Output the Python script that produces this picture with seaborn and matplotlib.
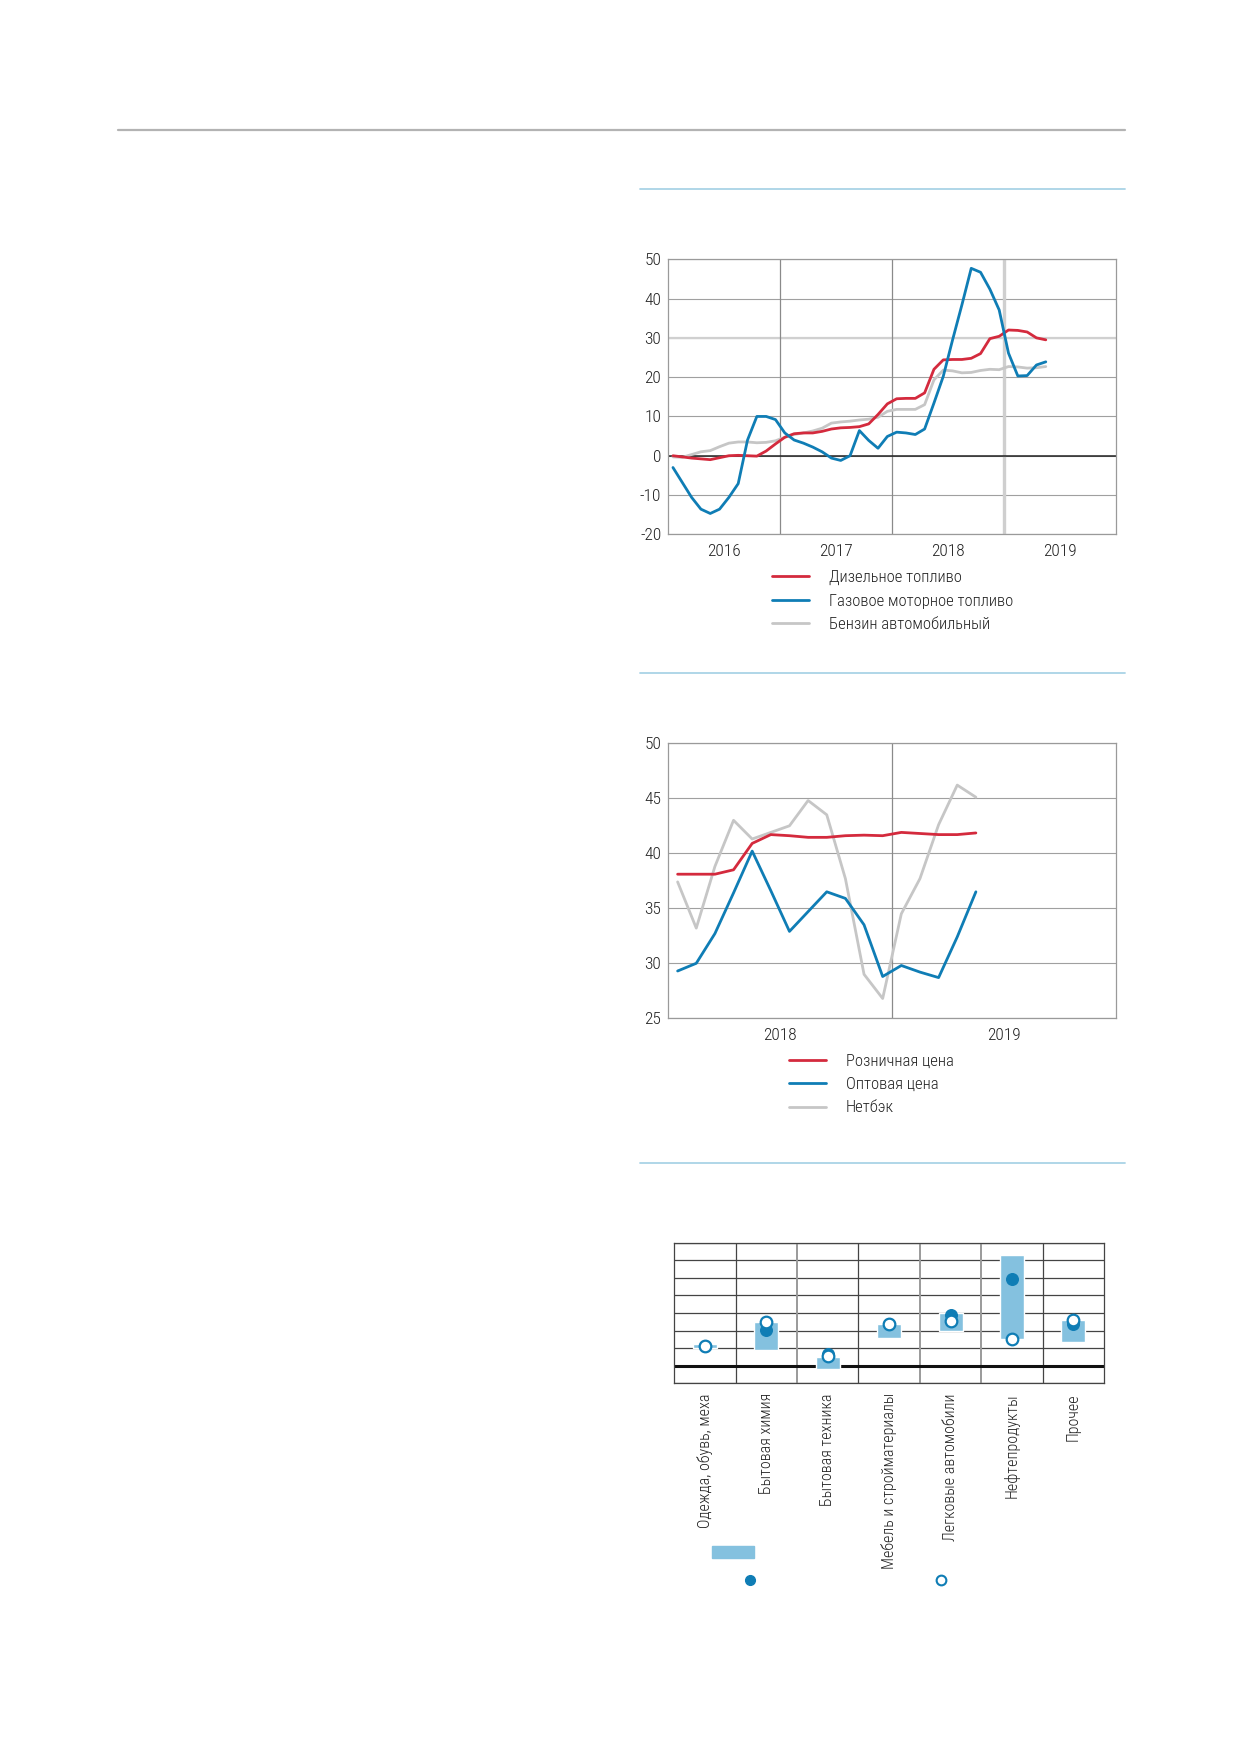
import numpy as np
import pandas as pd
import matplotlib
matplotlib.use('Agg')
import matplotlib.pyplot as plt
import seaborn as sns
from matplotlib.lines import Line2D
from matplotlib.patches import Patch

sns.set_theme(style='white')
plt.rcParams['font.family'] = ['Roboto Condensed', 'DejaVu Sans']
plt.rcParams['font.stretch'] = 'condensed'
plt.rcParams['font.weight'] = 'light'
plt.rcParams['text.color'] = '#222222'
plt.rcParams['xtick.color'] = '#222222'
plt.rcParams['ytick.color'] = '#222222'

RED = '#d42a3d'
BLUE = '#0f7db5'
GREY = '#c6c6c6'
BAR = '#84c1df'

# --- chart 1: fuel prices, monthly Jan 2016 - May 2019 ---
fuel_labels = ['Дизельное топливо', 'Газовое моторное топливо', 'Бензин автомобильный']
diesel = [0, -0.3, -0.6, -0.8, -1.0, -0.5, 0, 0.1, 0, -0.1, 1.2, 3.0, 4.7, 5.6, 5.8,
          5.8, 6.2, 6.8, 7.1, 7.2, 7.4, 8.1, 10.5, 13.2, 14.5, 14.6, 14.6, 16, 22, 24.4,
          24.5, 24.5, 24.8, 26, 29.8, 30.4, 32, 31.9, 31.5, 30, 29.5]
gas = [-3, -6.8, -10.6, -13.6, -14.7, -13.6, -10.6, -7.1, 4, 10, 10, 9.2, 5.8, 4, 3.2,
       2.2, 1, -0.6, -1.2, 0, 6.4, 3.9, 1.9, 4.9, 6, 5.8, 5.4, 6.8, 13.4, 20.2,
       29.5, 38.4, 47.7, 46.7, 42.4, 37.1, 26.1, 20.3, 20.4, 23.1, 23.9]
petrol = [-0.3, -0.4, 0.3, 1.0, 1.3, 2.3, 3.2, 3.5, 3.5, 3.3, 3.4, 3.8, 4.7, 5.4, 5.8,
          6.3, 7.0, 8.3, 8.6, 8.8, 9.1, 9.3, 9.8, 11.3, 11.8, 11.8, 11.8, 13.0, 19.3, 21.8,
          21.6, 21.1, 21.2, 21.7, 22.0, 21.9, 22.7, 22.6, 22.3, 22.4, 22.7]
years1 = ['2016', '2017', '2018', '2019']
yticks1 = list(range(-20, 51, 10))

# --- chart 2: prices, monthly Jan 2018 - May 2019 ---
price_labels = ['Розничная цена', 'Оптовая цена', 'Нетбэк']
retail = [38.1, 38.1, 38.1, 38.5, 40.9, 41.7, 41.6, 41.45, 41.45, 41.6, 41.65, 41.6,
          41.9, 41.8, 41.7, 41.7, 41.85]
wholesale = [29.3, 30.0, 32.7, 36.4, 40.2, 36.6, 32.9, 34.7, 36.5, 35.9, 33.5, 28.8,
             29.8, 29.2, 28.7, 32.4, 36.5]
netback = [37.4, 33.2, 38.8, 43.0, 41.3, 41.9, 42.5, 44.8, 43.5, 37.7, 29.0, 26.8,
           34.5, 37.7, 42.6, 46.2, 45.1]
years2 = ['2018', '2019']
yticks2 = list(range(25, 51, 5))

# --- chart 3: ranges by category ---
categories = ['Одежда, обувь, меха', 'Бытовая химия', 'Бытовая техника',
              'Мебель и стройматериалы', 'Легковые автомобили', 'Нефтепродукты', 'Прочее']
range_lo = [1.02, 0.87, -0.19, 1.55, 1.99, 1.52, 1.35]
range_hi = [1.21, 2.46, 0.47, 2.35, 3.0, 6.31, 2.6]
filled_pts = [1.1, 2.05, 0.68, 2.35, 2.88, 4.93, 2.35]
open_pts = [1.1, 2.5, 0.53, 2.35, 2.54, 1.52, 2.63]

W, H = 1239, 1752
fig = plt.figure(figsize=(W / 100, H / 100), dpi=100)


def fx(px):
    return px / W


def fy(py):
    return 1 - py / H


def style_axes(ax, spine_color='#9a9a9a'):
    for s in ax.spines.values():
        s.set_visible(True)
        s.set_color(spine_color)
        s.set_linewidth(0.9)
    ax.tick_params(length=0, labelsize=12.5)
    ax.tick_params(axis='x', pad=7)
    ax.tick_params(axis='y', pad=5)


# decorative separators
fig.add_artist(Line2D([fx(118), fx(1125)], [fy(129.5)] * 2, color='#b3b3b3', lw=1.6))
for yy in [189, 672.5, 1162.5]:
    fig.add_artist(Line2D([fx(640), fx(1125)], [fy(yy)] * 2, color='#a9d3e6', lw=1.3))

# chart 1
ax1 = fig.add_axes([fx(668.3), fy(534.3), fx(447.4), 275 / H])
x1 = np.arange(len(diesel)) + 0.5
df1 = pd.DataFrame({'x': x1, 'diesel': diesel, 'gas': gas, 'petrol': petrol})
ax1.set_xlim(0, 48)
ax1.set_ylim(-20, 50)
ax1.set_yticks(yticks1)
ax1.set_yticklabels([str(v) for v in yticks1])
ax1.grid(axis='y', color='#a0a0a0', lw=0.8)
ax1.axhline(30, color='#d0d0d0', lw=1.6, zorder=0.6)
ax1.axhline(0, color='#222222', lw=1.1, zorder=1)
for b in [12, 24]:
    ax1.axvline(b, color='#8a8a8a', lw=0.9, zorder=0.7)
ax1.axvline(36, color='#cfcfcf', lw=2.4, zorder=0.7)
ax1.set_axisbelow(True)
sns.lineplot(data=df1, x='x', y='petrol', color=GREY, lw=2, ax=ax1, zorder=2)
sns.lineplot(data=df1, x='x', y='diesel', color=RED, lw=2, ax=ax1, zorder=3)
sns.lineplot(data=df1, x='x', y='gas', color=BLUE, lw=2, ax=ax1, zorder=4)
ax1.set_xticks([6, 18, 30, 42])
ax1.set_xticklabels(years1)
ax1.set_xlabel('')
ax1.set_ylabel('')
style_axes(ax1)
h1 = [Line2D([], [], color=c, lw=2) for c in [RED, BLUE, GREY]]
ax1.legend(h1, fuel_labels, loc='center left', bbox_to_anchor=(fx(772), fy(601)),
           bbox_transform=fig.transFigure, frameon=False, fontsize=12,
           handlelength=2.2, handletextpad=1.2, labelspacing=0.5,
           borderpad=0, borderaxespad=0)

# chart 2
ax2 = fig.add_axes([fx(668.3), fy(1018.3), fx(447.4), 275 / H])
x2 = np.arange(len(retail)) + 0.5
df2 = pd.DataFrame({'x': x2, 'retail': retail, 'wholesale': wholesale, 'netback': netback})
ax2.set_xlim(0, 24)
ax2.set_ylim(25, 50)
ax2.set_yticks(yticks2)
ax2.set_yticklabels([str(v) for v in yticks2])
ax2.grid(axis='y', color='#a0a0a0', lw=0.8)
ax2.axvline(12, color='#8a8a8a', lw=0.9, zorder=0.7)
ax2.set_axisbelow(True)
sns.lineplot(data=df2, x='x', y='netback', color=GREY, lw=2, ax=ax2, zorder=2)
sns.lineplot(data=df2, x='x', y='retail', color=RED, lw=2, ax=ax2, zorder=3)
sns.lineplot(data=df2, x='x', y='wholesale', color=BLUE, lw=2, ax=ax2, zorder=4)
ax2.set_xticks([6, 18])
ax2.set_xticklabels(years2)
ax2.set_xlabel('')
ax2.set_ylabel('')
style_axes(ax2)
h2 = [Line2D([], [], color=c, lw=2) for c in [RED, BLUE, GREY]]
ax2.legend(h2, price_labels, loc='center left', bbox_to_anchor=(fx(789.3), fy(1084.5)),
           bbox_transform=fig.transFigure, frameon=False, fontsize=12,
           handlelength=2.2, handletextpad=1.2, labelspacing=0.5,
           borderpad=0, borderaxespad=0)

# chart 3
ax3 = fig.add_axes([fx(674.3), fy(1383.3), fx(429.7), 140.6 / H])
df3 = pd.DataFrame({'cat': categories, 'lo': range_lo, 'hi': range_hi,
                    'filled': filled_pts, 'open': open_pts})
ax3.bar(df3['cat'], df3['hi'] - df3['lo'], bottom=df3['lo'], width=0.39,
        color=BAR, zorder=2)
sns.scatterplot(data=df3, x='cat', y='filled', color=BLUE, edgecolor=BLUE, s=70,
                linewidth=1, ax=ax3, zorder=3)
sns.scatterplot(data=df3, x='cat', y='open', color='white', edgecolor=BLUE, s=70,
                linewidth=1.6, ax=ax3, zorder=4)
ax3.set_xlim(-0.5, len(categories) - 0.5)
ax3.set_ylim(-1, 7)
ax3.set_yticks(range(-1, 8))
ax3.set_yticklabels([])
ax3.grid(axis='y', color='#444444', lw=0.9)
for i, b in enumerate(np.arange(0.5, len(categories) - 0.5)):
    ax3.axvline(b, color='#9a9a9a' if i in (1, 3, 4) else '#444444',
                lw=1.4 if i in (1, 3, 4) else 0.9, zorder=0.7)
ax3.axhline(0, color='#111111', lw=2.2, zorder=1)
ax3.set_axisbelow(True)
ax3.set_xlabel('')
ax3.set_ylabel('')
style_axes(ax3, spine_color='#444444')
ax3.tick_params(axis='x', labelrotation=90, pad=7, labelsize=11.5)

leg_a = ax3.legend([Patch(color=BAR)], [''], loc='center left',
                   bbox_to_anchor=(fx(712), fy(1553)), bbox_transform=fig.transFigure,
                   frameon=False, fontsize=12, handlelength=2.5, handleheight=0.75,
                   handletextpad=0, borderpad=0, borderaxespad=0)
ax3.add_artist(leg_a)
dot_h = [Line2D([], [], marker='o', ls='', color=BLUE, ms=7),
         Line2D([], [], marker='o', ls='', mfc='white', mec=BLUE, mew=1.5, ms=7)]
ax3.legend(dot_h, ['', ''], ncol=2, loc='center left',
           bbox_to_anchor=(fx(742), fy(1581)), bbox_transform=fig.transFigure,
           frameon=False, fontsize=12, handlelength=1, handletextpad=0,
           columnspacing=10.45, borderpad=0, borderaxespad=0)

fig.savefig('out.png', dpi=100)
